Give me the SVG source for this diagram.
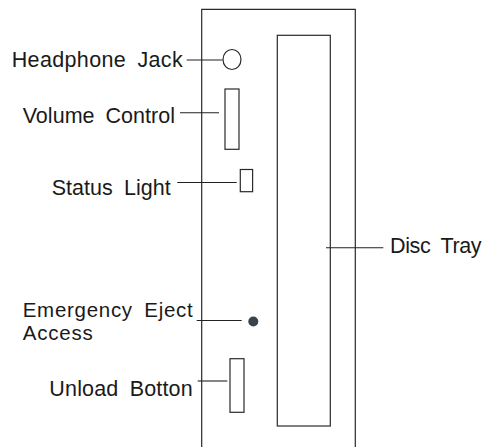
<svg xmlns="http://www.w3.org/2000/svg" width="485" height="447" viewBox="0 0 485 447">
<style>
.s{fill:none;stroke:#2a2a2a;stroke-width:1.2}
.l{stroke:#222;stroke-width:1.1;fill:none}
text{font-family:"Liberation Sans",Arial,sans-serif;font-size:21.5px;fill:#1a1a1a;word-spacing:5px}
text.e{font-size:20.5px}
</style>
<rect width="485" height="447" fill="#fff"/>
<g id="panel"><path class="s" d="M201.7,447 V9.3 H355.3 V447"/></g>
<g id="disc-tray"><rect class="s" x="277.3" y="35.3" width="53" height="390.7"/><text x="390" y="253.3" textLength="91.5" lengthAdjust="spacing">Disc Tray</text></g>
<g id="headphone-jack"><ellipse class="s" cx="232" cy="59.5" rx="9" ry="10"/><text x="11.7" y="67" textLength="171" lengthAdjust="spacing">Headphone Jack</text></g>
<g id="volume-control"><rect class="s" x="225" y="89" width="14" height="60.3"/><text x="22.7" y="122.5" textLength="152.3" lengthAdjust="spacing">Volume Control</text></g>
<g id="status-light"><rect class="s" x="240.3" y="169.5" width="12.3" height="22.2"/><text x="51.7" y="195.3" textLength="119" lengthAdjust="spacing">Status Light</text></g>
<g id="emergency-eject"><circle cx="253.3" cy="321.5" r="5" fill="#37444d"/><text class="e" x="22.7" y="317.3" textLength="170" lengthAdjust="spacing">Emergency Eject</text><text class="e" x="22.7" y="340.4" textLength="70" lengthAdjust="spacing">Access</text></g>
<g id="unload-button"><rect class="s" x="230" y="358.7" width="14" height="53.6"/><text x="49.3" y="395.7" textLength="143.4" lengthAdjust="spacing">Unload Botton</text></g>
<g id="connectors">
<line class="l" x1="186.7" y1="60" x2="222.5" y2="60"/>
<line class="l" x1="180" y1="112.7" x2="219" y2="112.7"/>
<line class="l" x1="177.3" y1="182.5" x2="236.7" y2="182.5"/>
<line class="l" x1="326" y1="247.7" x2="383.3" y2="247.7"/>
<line class="l" x1="196.7" y1="320.5" x2="241.7" y2="320.5"/>
<line class="l" x1="197.7" y1="381" x2="227.3" y2="381"/>
</g>
</svg>
